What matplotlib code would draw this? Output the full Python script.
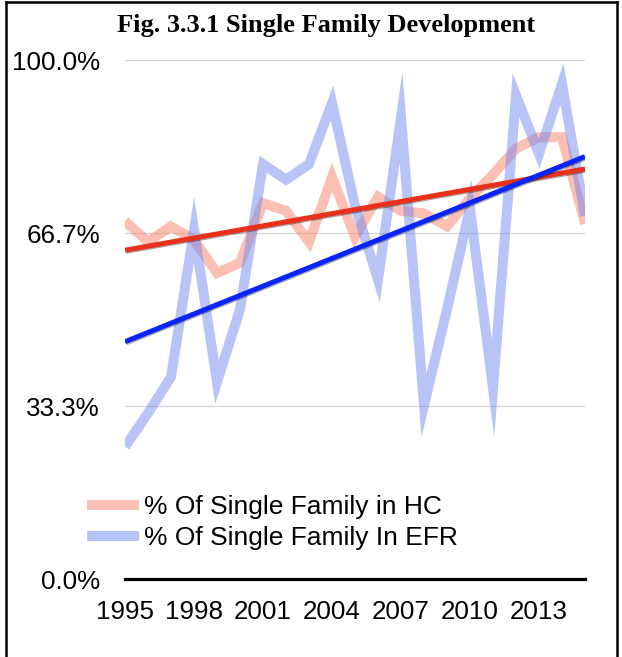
import numpy as np
import matplotlib
matplotlib.use("Agg")
import matplotlib.pyplot as plt
import matplotlib.patheffects as pe
from matplotlib.lines import Line2D

years = list(range(1995, 2016))
hc = [69, 65, 68, 65.4, 59, 61, 72.5, 71, 65, 77.5, 66, 73.7,
      71, 70.5, 68, 73.5, 78, 83, 85.2, 85.2, 68.5]
efr = [25.5, 32, 39, 67.3, 38, 52, 80, 77, 80, 91.8, 72, 57.7,
       89, 33.5, 52, 71.5, 36.8, 93.3, 82, 95.5, 70]
labels = ["% Of Single Family in HC", "% Of Single Family In EFR"]
title = "Fig. 3.3.1 Single Family Development"
year_ticks = [1995, 1998, 2001, 2004, 2007, 2010, 2013]
pct_ticks = [0, 100 / 3, 200 / 3, 100]

plt.rcParams["font.family"] = ["Liberation Sans", "DejaVu Sans"]

fig = plt.figure(figsize=(6.22, 6.57), dpi=100)
ax = fig.add_axes([0.201, 0.1187, 0.7395, 0.7893])

x = np.array(years)
l1, = ax.plot(x, hc, color="#f8806a", alpha=0.5, lw=7.2,
              solid_joinstyle="miter", solid_capstyle="butt", zorder=2)
l2, = ax.plot(x, efr, color="#7389ee", alpha=0.5, lw=7.2,
              solid_joinstyle="miter", solid_capstyle="butt", zorder=2)

# linear trend lines
shadow = [pe.SimpleLineShadow(offset=(0.8, -0.8), alpha=0.35), pe.Normal()]
for vals, c in [(hc, "#e8301a"), (efr, "#0a24ff")]:
    k, b = np.polyfit(x, vals, 1)
    ax.plot(x, k * x + b, color=c, lw=3.6, zorder=3, path_effects=shadow,
            solid_capstyle="butt")

ax.set_xlim(1995, 2015)
ax.set_ylim(0, 100)
ax.set_yticks(pct_ticks)
ax.set_yticklabels([f"{v:.1f}%" for v in pct_ticks])
ax.set_xticks(year_ticks)
ax.set_xticklabels([str(y) for y in year_ticks])
ax.tick_params(axis="y", length=0, pad=18, labelsize=18.7)
ax.tick_params(axis="x", length=0, pad=15, labelsize=18.7)
ax.yaxis.grid(True, color="#d6d6d6", lw=0.9)
ax.set_axisbelow(True)
for s in ["top", "right", "left"]:
    ax.spines[s].set_visible(False)
ax.spines["bottom"].set_linewidth(2.3)
ax.spines["bottom"].set_zorder(4)

fig.text(0.524, 0.961, title, ha="center", va="center",
         fontsize=19, fontweight="bold", family=["Liberation Serif"])

fig.legend([l1, l2], labels, loc="upper left", bbox_to_anchor=(0.14, 0.2465),
           frameon=False, fontsize=19, handlelength=1.95, handletextpad=0.2,
           labelspacing=0.28, borderpad=0, borderaxespad=0)

# frame around the figure (left, top, right)
fig.add_artist(Line2D([0.01, 0.01], [0, 0.997], color="black", lw=1.8,
                      transform=fig.transFigure))
fig.add_artist(Line2D([0.01, 0.992], [0.997, 0.997], color="black", lw=1.8,
                      transform=fig.transFigure))
fig.add_artist(Line2D([0.992, 0.992], [0, 0.997], color="black", lw=1.8,
                      transform=fig.transFigure))

fig.savefig("out.png", dpi=100)
